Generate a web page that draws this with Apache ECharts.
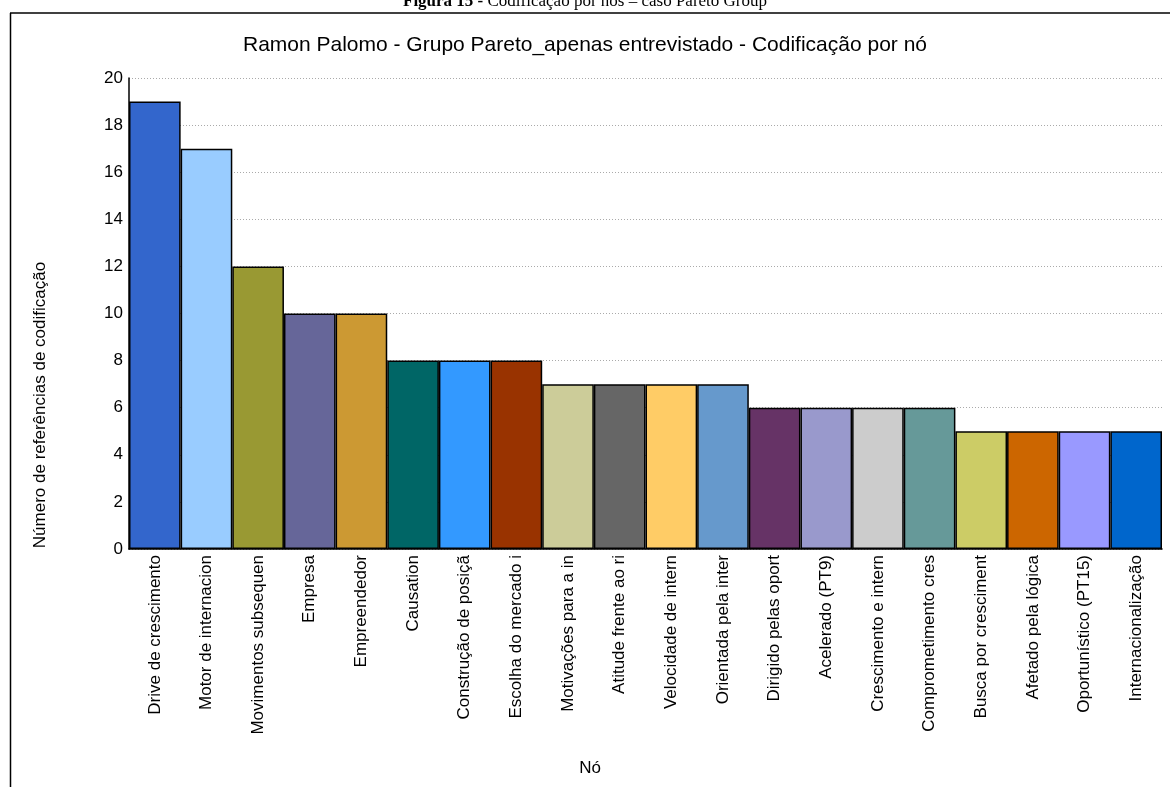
<!DOCTYPE html>
<html><head><meta charset="utf-8">
<script src="https://cdn.jsdelivr.net/npm/echarts@6/dist/echarts.min.js"></script>
<style>html,body{margin:0;padding:0;background:#fff}#c{width:1170px;height:787px}</style>
</head><body><div id="c"></div>
<script>
const categories = ["Drive de crescimento","Motor de internacion","Movimentos subsequen","Empresa","Empreendedor","Causation","Construção de posiçã","Escolha do mercado i","Motivações para a in","Atitude frente ao ri","Velocidade de intern","Orientada pela inter","Dirigido pelas oport","Acelerado (PT9)","Crescimento e intern","Comprometimento cres","Busca por cresciment","Afetado pela lógica","Oportunístico (PT15)","Internacionalização"];
const values = [19,17,12,10,10,8,8,8,7,7,7,7,6,6,6,6,5,5,5,5];
const colors = ["#3366CC","#99CCFF","#999933","#666699","#CC9933","#006666","#3399FF","#993300","#CCCC99","#666666","#FFCC66","#6699CC","#663366","#9999CC","#CCCCCC","#669999","#CCCC66","#CC6600","#9999FF","#0066CC"];
const yTicks = [0,2,4,6,8,10,12,14,16,18,20];

const chart = echarts.init(document.getElementById('c'), null, {renderer:'canvas'});
chart.setOption({
  backgroundColor:'#fff',
  animation:false,
  title:{text:'Ramon Palomo - Grupo Pareto_apenas entrevistado - Codificação por nó',left:'center',top:30,
    textStyle:{fontFamily:'Liberation Sans',fontSize:21,fontWeight:'normal',color:'#000'}},
  grid:{left:129,right:8,top:78,bottom:238,containLabel:false},
  xAxis:{type:'category',data:categories,
    axisLine:{lineStyle:{color:'#000',width:1.5}},
    axisTick:{show:false},
    axisLabel:{rotate:90,interval:0,margin:6,fontFamily:'Liberation Sans',fontSize:17,color:'#000'}},
  yAxis:{type:'value',min:yTicks[0],max:yTicks[yTicks.length-1],interval:2,
    axisLine:{show:true,lineStyle:{color:'#000',width:1.5}},
    axisTick:{show:false},
    axisLabel:{margin:6,fontFamily:'Liberation Sans',fontSize:17,color:'#000'},
    splitLine:{show:true,lineStyle:{color:'#aaa',type:[1,2],width:1}}},
  series:[{type:'bar',barCategoryGap:'0%',
    data:values.map((v,i)=>({value:v,itemStyle:{color:colors[i]}})),
    itemStyle:{borderColor:'#000',borderWidth:1.5}}],
  graphic:[
    {type:'line',shape:{x1:10,y1:13,x2:1170,y2:13},style:{stroke:'#000',lineWidth:1.5},silent:true},
    {type:'line',shape:{x1:10.5,y1:13,x2:10.5,y2:787},style:{stroke:'#000',lineWidth:1.5},silent:true},
    {type:'text',left:'center',top:-7,style:{rich:{b:{fontFamily:'Liberation Serif',fontSize:17,fontWeight:'bold',fill:'#000'},n:{fontFamily:'Liberation Serif',fontSize:17,fill:'#000'}},
      text:'{b|Figura 15 - }{n|Codificação por nós – caso Pareto Group}'}},
    {type:'text',x:40,y:405,rotation:Math.PI/2,style:{text:'Número de referências de codificação',fontFamily:'Liberation Sans',fontSize:17,fill:'#000',align:'center',verticalAlign:'middle'}},
    {type:'text',x:590,y:768,style:{text:'Nó',fontFamily:'Liberation Sans',fontSize:17,fill:'#000',align:'center',verticalAlign:'middle'}}
  ]
});
</script></body></html>
